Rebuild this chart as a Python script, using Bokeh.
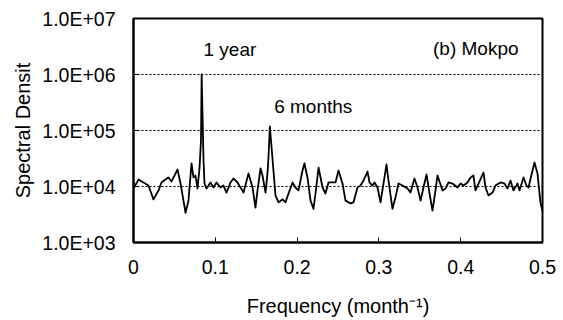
from bokeh.plotting import figure
from bokeh.models import Range1d, FixedTicker, CustomJSTickFormatter, Label, ColumnDataSource
from bokeh.embed import file_html
from bokeh.resources import INLINE

# Frequency (month^-1) and spectral density
freq = [
    0.0, 0.0061, 0.0122, 0.0183, 0.0244, 0.0306, 0.0342, 0.0391, 0.0428, 0.0465,
    0.0501, 0.0538, 0.0575, 0.0611, 0.0636, 0.0672, 0.0709, 0.0733, 0.0758, 0.0782,
    0.0807, 0.0825, 0.0833, 0.0856, 0.0868, 0.0892, 0.0941, 0.0978, 0.1015, 0.1064,
    0.1100, 0.1137, 0.1186, 0.1222, 0.1271, 0.1345, 0.1406, 0.1455, 0.1491, 0.1516,
    0.1553, 0.1577, 0.1614, 0.1638, 0.1650, 0.1667, 0.1711, 0.1736, 0.1773, 0.1822,
    0.1858, 0.1895, 0.1944, 0.1980, 0.2017, 0.2066, 0.2090, 0.2127, 0.2164, 0.2200,
    0.2225, 0.2262, 0.2311, 0.2347, 0.2384, 0.2433, 0.2469, 0.2506, 0.2555, 0.2592,
    0.2653, 0.2689, 0.2738, 0.2775, 0.2812, 0.2861, 0.2885, 0.2922, 0.2946, 0.2983,
    0.3020, 0.3056, 0.3093, 0.3117, 0.3166, 0.3203, 0.3240, 0.3289, 0.3350, 0.3386,
    0.3435, 0.3472, 0.3509, 0.3545, 0.3582, 0.3619, 0.3655, 0.3692, 0.3716, 0.3778,
    0.3814, 0.3851, 0.3900, 0.3961, 0.3998, 0.4034, 0.4083, 0.4120, 0.4156, 0.4181,
    0.4218, 0.4279, 0.4303, 0.4340, 0.4389, 0.4425, 0.4462, 0.4499, 0.4535, 0.4572,
    0.4609, 0.4645, 0.4694, 0.4719, 0.4768, 0.4804, 0.4829, 0.4878, 0.4902, 0.4939,
    0.4976, 0.5000,
]
density = [
    9.2e3, 1.33e4, 1.18e4, 1.04e4, 5.9e3, 8.5e3, 1.18e4, 1.33e4, 1.45e4, 1.23e4,
    1.57e4, 2.01e4, 1.13e4, 5.6e3, 3.4e3, 5.6e3, 2.58e4, 1.45e4, 1.57e4, 9.2e3,
    2.1e4, 6.6e4, 1.0e6, 2.9e4, 1.13e4, 9.2e3, 1.18e4, 9.6e3, 1.18e4, 9.6e3,
    1.04e4, 7.8e3, 1.18e4, 1.39e4, 1.18e4, 7.8e3, 1.71e4, 9.6e3, 4.2e3, 8.5e3,
    2.1e4, 1.57e4, 7.8e3, 1.71e4, 3.3e4, 1.18e5, 1.93e4, 6.9e3, 5.2e3, 5.9e3,
    5.2e3, 7.5e3, 1.18e4, 9.6e3, 8.5e3, 1.93e4, 2.58e4, 1.45e4, 5.6e3, 4.0e3,
    7.5e3, 2.18e4, 9.6e3, 7.5e3, 1.18e4, 1.18e4, 1.18e4, 1.93e4, 1.13e4, 5.6e3,
    5.0e3, 5.2e3, 9.6e3, 1.04e4, 1.28e4, 1.85e4, 1.18e4, 1.04e4, 1.18e4, 9.6e3,
    5.2e3, 1.13e4, 2.47e4, 1.28e4, 4.0e3, 6.4e3, 1.13e4, 1.04e4, 9.2e3, 7.8e3,
    1.39e4, 9.6e3, 5.6e3, 9.6e3, 1.64e4, 7.5e3, 3.7e3, 8.5e3, 1.57e4, 8.5e3,
    9.2e3, 1.18e4, 1.13e4, 9.6e3, 1.13e4, 1.04e4, 1.18e4, 1.45e4, 1.57e4, 8.5e3,
    1.13e4, 1.78e4, 9.6e3, 6.9e3, 7.8e3, 1.04e4, 1.13e4, 1.18e4, 1.13e4, 9.2e3,
    1.28e4, 8.5e3, 1.13e4, 8.5e3, 1.45e4, 1.04e4, 9.6e3, 1.93e4, 2.68e4, 1.71e4,
    5.0e3, 3.7e3,
]
x_ticks = [0, 0.1, 0.2, 0.3, 0.4, 0.5]
y_ticks = [1e3, 1e4, 1e5, 1e6, 1e7]
grid_ticks = [1e4, 1e5, 1e6]

FONT = "Liberation Sans"

p = figure(
    width=563, height=320,
    y_axis_type="log",
    x_range=Range1d(0, 0.5), y_range=Range1d(1e3, 1e7),
    output_backend="svg", toolbar_location=None,
    min_border_left=133, min_border_right=21, min_border_top=18, min_border_bottom=78,
    background_fill_color="white", border_fill_color="white",
)
p.outline_line_color = "black"
p.outline_line_width = 2

p.line(x="f", y="d", source=ColumnDataSource(dict(f=freq, d=density)),
       line_color="black", line_width=1.8, line_join="round")

# axes
for ax in (p.xaxis[0], p.yaxis[0]):
    ax.axis_line_color = "black"
    ax.axis_line_width = 2
    ax.major_tick_in = 5
    ax.major_tick_out = 0
    ax.major_tick_line_color = "black"
    ax.major_tick_line_width = 1
    ax.minor_tick_line_color = None
    ax.major_label_text_font = FONT
    ax.major_label_text_font_size = "19.5px"
    ax.major_label_text_color = "black"
    ax.axis_label_text_font = FONT
    ax.axis_label_text_font_size = "20px"
    ax.axis_label_text_font_style = "normal"
    ax.axis_label_text_color = "black"

p.xaxis.ticker = FixedTicker(ticks=x_ticks)
p.yaxis.ticker = FixedTicker(ticks=y_ticks)
p.yaxis.formatter = CustomJSTickFormatter(code="""
    const e = Math.round(Math.log10(tick));
    return "1.0E+" + (e < 10 ? "0" : "") + e;
""")
p.xaxis.major_label_standoff = 17
p.yaxis.major_label_standoff = 18
p.xaxis.axis_label = "Frequency (month\u207b\u00b9)"
p.yaxis.axis_label = "Spectral Densit"
p.xaxis.axis_label_standoff = 18
p.yaxis.axis_label_standoff = 5

# grid
p.xgrid.visible = False
p.ygrid.ticker = FixedTicker(ticks=grid_ticks)
p.ygrid.grid_line_color = "black"
p.ygrid.grid_line_dash = "2 2"
p.ygrid.grid_line_width = 1

# annotations
for txt, x, y, align in [
    ("1 year", 0.0856, 2.8e6, "left"),
    ("6 months", 0.172, 2.7e5, "left"),
    ("(b) Mokpo", 0.4707, 2.9e6, "right"),
]:
    p.add_layout(Label(x=x, y=y, text=txt, text_font=FONT, text_font_size="19px",
                       text_color="black", text_align=align, text_baseline="alphabetic"))

open("out.html", "w").write(file_html(p, INLINE))
